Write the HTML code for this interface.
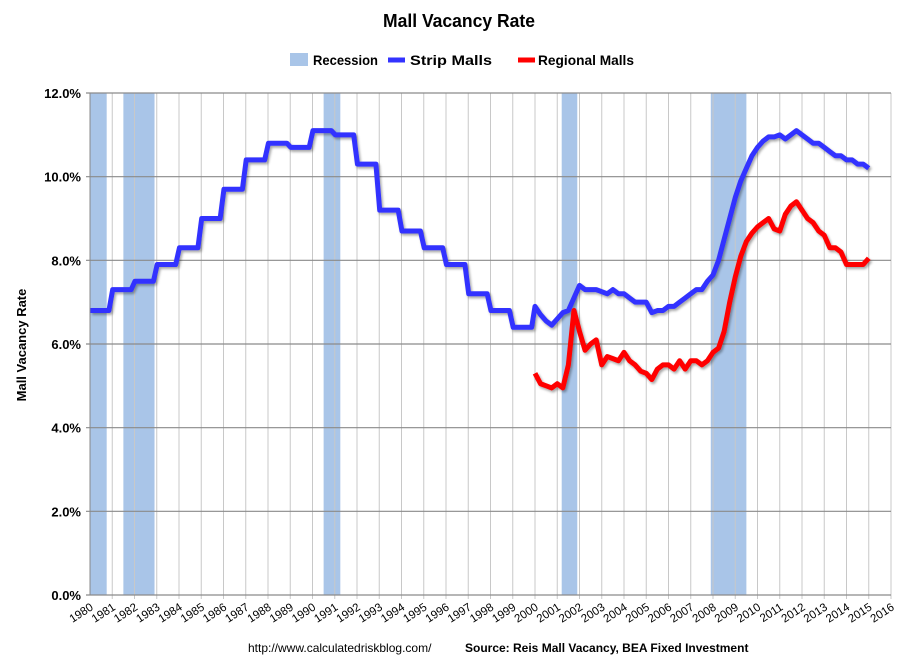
<!DOCTYPE html>
<html><head><meta charset="utf-8"><style>
body{margin:0;background:#fff;font-family:"Liberation Sans",sans-serif}
svg{display:block}
</style></head><body>
<svg id="chart" width="918" height="671">
<defs><filter id="sh" x="-5%" y="-5%" width="110%" height="110%"><feDropShadow dx="1.5" dy="2" stdDeviation="1.2" flood-color="#000" flood-opacity="0.35"/></filter></defs>
<text x="459" y="27" text-anchor="middle" font-size="18" font-weight="bold" textLength="152" lengthAdjust="spacingAndGlyphs">Mall Vacancy Rate</text>
<g font-size="14" font-weight="bold">
<rect x="290" y="53" width="18" height="13" fill="#a9c5e8"/>
<text x="313" y="65" textLength="65" lengthAdjust="spacingAndGlyphs">Recession</text>
<line x1="388" y1="60" x2="405" y2="60" stroke="#3333ff" stroke-width="5"/>
<text x="410" y="65" textLength="82" lengthAdjust="spacingAndGlyphs">Strip Malls</text>
<line x1="518" y1="60" x2="535" y2="60" stroke="#ff0000" stroke-width="5"/>
<text x="538" y="65" textLength="96" lengthAdjust="spacingAndGlyphs">Regional Malls</text>
</g>
<text transform="translate(26,345) rotate(-90)" text-anchor="middle" font-size="13" font-weight="bold">Mall Vacancy Rate</text>
<g id="plot"></g>
<text x="248" y="652" font-size="12">http://www.calculatedriskblog.com/</text>
<text x="465" y="652" font-size="12" font-weight="bold">Source: Reis Mall Vacancy, BEA Fixed Investment</text>
</svg>
<script>
const recessionStarts=[1980.0,1981.5,1990.5,2001.2,2007.9];
const recessionEnds=[1980.75,1982.9,1991.25,2001.9,2009.5];
const yTicks=[0,2,4,6,8,10,12];
const xYears=[1980,1981,1982,1983,1984,1985,1986,1987,1988,1989,1990,1991,1992,1993,1994,1995,1996,1997,1998,1999,2000,2001,2002,2003,2004,2005,2006,2007,2008,2009,2010,2011,2012,2013,2014,2015,2016];
const stripAnnualYears=[1980,1981,1982,1983,1984,1985,1986,1987,1988,1989,1990,1991,1992,1993,1994,1995,1996,1997,1998,1999];
const stripAnnual=[6.8,7.3,7.5,7.9,8.3,9.0,9.7,10.4,10.8,10.7,11.1,11.0,10.3,9.2,8.7,8.3,7.9,7.2,6.8,6.4];
const quarterStart=2000;
const stripQuarterly=[6.9,6.7,6.55,6.45,6.6,6.75,6.8,7.1,7.4,7.3,7.3,7.3,7.25,7.2,7.3,7.2,7.2,7.1,7.0,7.0,7.0,6.75,6.8,6.8,6.9,6.9,7.0,7.1,7.2,7.3,7.3,7.5,7.65,8.0,8.5,9.0,9.5,9.9,10.2,10.5,10.7,10.85,10.95,10.95,11.0,10.9,11.0,11.1,11.0,10.9,10.8,10.8,10.7,10.6,10.5,10.5,10.4,10.4,10.3,10.3,10.2];
const regionalQuarterly=[5.3,5.05,5.0,4.95,5.05,4.95,5.5,6.8,6.3,5.85,6.0,6.1,5.5,5.7,5.65,5.6,5.8,5.6,5.5,5.35,5.3,5.15,5.4,5.5,5.5,5.4,5.6,5.4,5.6,5.6,5.5,5.6,5.8,5.9,6.3,7.0,7.6,8.1,8.45,8.65,8.8,8.9,9.0,8.75,8.7,9.1,9.3,9.4,9.2,9.0,8.9,8.7,8.6,8.3,8.3,8.2,7.9,7.9,7.9,7.9,8.05];

const X=t=>90+(t-1980)*(801/36);
const Y=v=>595-v*(502/12);
const NS='http://www.w3.org/2000/svg';
const plot=document.getElementById('plot');
function mk(tag,attrs){const e=document.createElementNS(NS,tag);for(const k in attrs)e.setAttribute(k,attrs[k]);plot.appendChild(e);return e;}

recessionStarts.forEach((s,i)=>{
 const r=mk('rect',{x:X(s),y:Y(12),width:X(recessionEnds[i])-X(s),height:Y(0)-Y(12),fill:'#a9c5e8'});
 
 
});
xYears.forEach(yr=>{
 if(yr>1980){const l=mk('line',{x1:X(yr),x2:X(yr),y1:Y(12),y2:Y(0)+4,stroke:'#c8c8c8','stroke-width':1});
 
 }
 const t=mk('text',{transform:`translate(${X(yr)+4},${Y(0)+14}) rotate(-33)`,'text-anchor':'end','font-size':11.5});
 t.textContent=yr;
 
 
});
yTicks.forEach(v=>{
 const l=mk('line',{x1:X(1980)-4,x2:X(2016),y1:Y(v),y2:Y(v),stroke:'#8a8a8a','stroke-width':1.2});
 
 
 const t=mk('text',{x:X(1980)-9,y:Y(v)+5,'text-anchor':'end','font-size':13,'font-weight':'bold'});
 t.textContent=v.toFixed(1)+'%';
 
 
});
const ax=mk('line',{x1:X(1980),x2:X(1980),y1:Y(12),y2:Y(0),stroke:'#888','stroke-width':1});



let sp=[];
stripAnnualYears.forEach((yr,i)=>{sp.push([X(yr+0.02),Y(stripAnnual[i])]);sp.push([X(yr+0.85),Y(stripAnnual[i])]);});
stripQuarterly.forEach((v,i)=>sp.push([X(quarterStart+i*0.25),Y(v)]));
const strip=mk('polyline',{points:sp.map(p=>p.join(',')).join(' '),fill:'none',stroke:'#3333ff','stroke-width':5,'stroke-linejoin':'round',filter:'url(#sh)'});


const rp=regionalQuarterly.map((v,i)=>[X(quarterStart+i*0.25),Y(v)]);
const reg=mk('polyline',{points:rp.map(p=>p.join(',')).join(' '),fill:'none',stroke:'#ff0000','stroke-width':5,'stroke-linejoin':'round',filter:'url(#sh)'});


</script>
</body></html>
